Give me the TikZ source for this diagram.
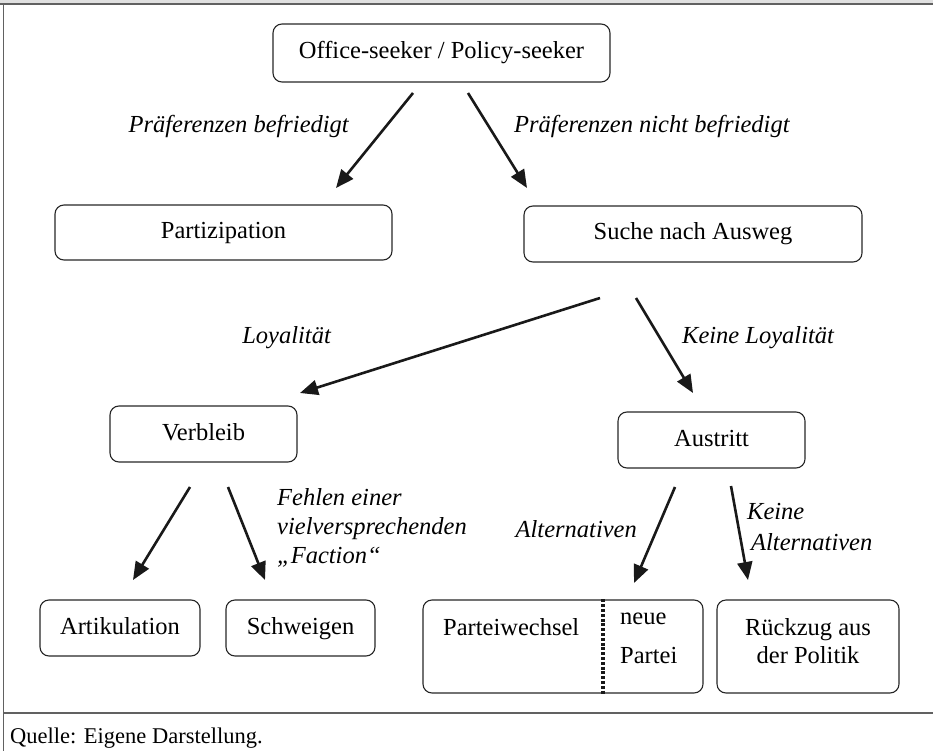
\documentclass[tikz,border=0pt]{standalone}
\usepackage{fontspec}
\setmainfont{Liberation Serif}
\usetikzlibrary{arrows.meta}
\begin{document}
\begin{tikzpicture}[x=1pt,y=-1pt,
  box/.style={draw=black!85, rounded corners=9pt, line width=1.1pt, inner sep=0pt, font=\fontsize{24.5}{28}\selectfont, align=center, text height=17pt, text depth=5pt},
  txt/.style={font=\fontsize{24.5}{28}\selectfont, inner sep=0pt, align=center},
  lbl/.style={font=\fontsize{24.5}{29.5}\selectfont\itshape, inner sep=0pt},
  arr/.style={line width=2.6pt, draw=black!90, -{Triangle[length=18pt,width=15pt]}},
  frame/.style={draw=black!62, line width=1.8pt},
  divider/.style={draw=black!90, line width=3.4pt, dash pattern=on 3pt off 1.8pt},
  ]
\useasboundingbox (0,0) rectangle (933,751);
% frame
\fill[black!12] (0,0) rectangle (933,4);
\draw[frame] (0,4) -- (933,4);
\draw[frame, line width=1.5pt] (3.5,4) -- (3.5,751);
\draw[frame] (3.5,713) -- (933,713);
% boxes
\node[box, minimum width=337pt, minimum height=58pt] (office) at (441.5,53) {Office-seeker / Policy-seeker};
\node[box, minimum width=337pt, minimum height=55pt] (part) at (223.5,232.5) {Partizipation};
\node[box, minimum width=338pt, minimum height=56pt] (suche) at (693,234) {Suche nach Ausweg};
\node[box, minimum width=187pt, minimum height=56pt] (verbleib) at (203.5,434) {Verbleib};
\node[box, minimum width=187pt, minimum height=56pt] (austritt) at (711.5,440) {Austritt};
\node[box, minimum width=160pt, minimum height=56pt] (artik) at (120,628) {Artikulation};
\node[box, minimum width=149pt, minimum height=56pt] (schw) at (300.5,628) {Schweigen};
\node[box, minimum width=280pt, minimum height=93pt] (pw) at (563,646.5) {};
\node[box, minimum width=182pt, minimum height=93pt] (rueck) at (808,646.5) {};
% texts inside split boxes
\node[txt, anchor=base west] (pwtxt) at (443,635) {Parteiwechsel};
\node[txt, anchor=base west] (neue) at (620,624) {neue};
\node[txt, anchor=base west] (partei) at (620,663) {Partei};
\node[txt, anchor=base] (rueck1) at (808,635) {Rückzug aus};
\node[txt, anchor=base] (rueck2) at (808,663) {der Politik};
\coordinate (dv) at (603,0);
\draw[divider] (pw.north -| dv) -- (pw.south -| dv);
% arrow end points
\coordinate (a1s) at (413,93);  \coordinate (a1e) at (336,188);
\coordinate (a2s) at (468,93);  \coordinate (a2e) at (527,188);
\coordinate (a3s) at (600,298); \coordinate (a3e) at (300,393);
\coordinate (a4s) at (636,298); \coordinate (a4e) at (693,393);
\coordinate (a5s) at (190,487); \coordinate (a5e) at (133,580);
\coordinate (a6s) at (228,487); \coordinate (a6e) at (265,580);
\coordinate (a7s) at (675,487); \coordinate (a7e) at (634,583);
\coordinate (a8s) at (731,486); \coordinate (a8e) at (748,580);
\draw[arr] (a1s) -- (a1e);
\draw[arr] (a2s) -- (a2e);
\draw[arr] (a3s) -- (a3e);
\draw[arr] (a4s) -- (a4e);
\draw[arr] (a5s) -- (a5e);
\draw[arr] (a6s) -- (a6e);
\draw[arr] (a7s) -- (a7e);
\draw[arr] (a8s) -- (a8e);
% labels
\node[lbl, anchor=base east] (l1) at (349,133) {Präferenzen befriedigt};
\node[lbl, anchor=base west] (l2) at (514,133) {Präferenzen nicht befriedigt};
\node[lbl, anchor=base east] (l3) at (331,343) {Loyalität};
\node[lbl, anchor=base west] (l4) at (682,343) {Keine Loyalität};
\node[lbl, anchor=base west] (l5a) at (277,505) {Fehlen einer};
\node[lbl, anchor=base west] (l5b) at (277,534) {vielversprechenden};
\node[lbl, anchor=base west] (l5c) at (277,563) {„Faction“};
\node[lbl, anchor=base east] (l6) at (637,537) {Alternativen};
\node[lbl, anchor=base west] (l7a) at (747,519) {Keine};
\node[lbl, anchor=base west] (l7b) at (751,550) {Alternativen};
% caption
\node[font=\fontsize{22.5}{25}\selectfont, inner sep=0pt, anchor=base west] (quelle) at (10,743) {Quelle: Eigene Darstellung.};
\end{tikzpicture}
\end{document}
